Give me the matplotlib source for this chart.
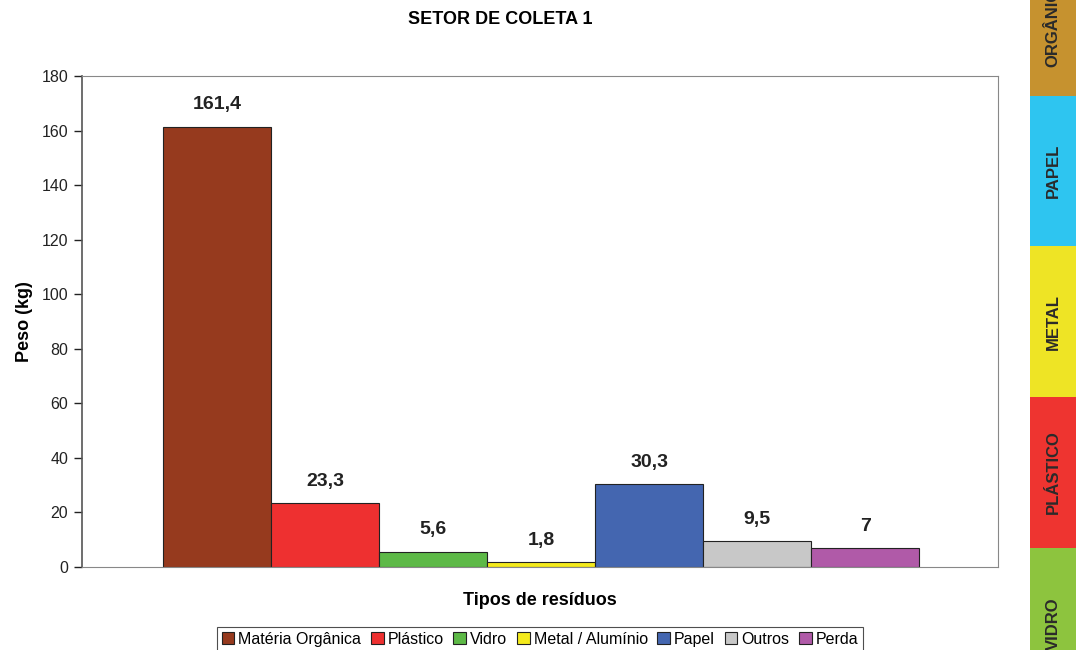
import matplotlib
matplotlib.use("Agg")
import matplotlib.pyplot as plt
from matplotlib.patches import Rectangle, Patch

plt.rcParams['font.family'] = ['Liberation Sans', 'DejaVu Sans']

categories = ["Matéria Orgânica", "Plástico", "Vidro", "Metal / Alumínio", "Papel", "Outros", "Perda"]
values = [161.4, 23.3, 5.6, 1.8, 30.3, 9.5, 7]
value_labels = ["161,4", "23,3", "5,6", "1,8", "30,3", "9,5", "7"]
colors = ["#963A1E", "#EE3030", "#5DB947", "#F4EA1C", "#4466B0", "#C8C8C8", "#B05AA8"]
yticks = [0, 20, 40, 60, 80, 100, 120, 140, 160, 180]

strip_labels = ["ORGÂNICO", "PAPEL", "METAL", "PLÁSTICO", "VIDRO"]
strip_colors = ["#C6922F", "#2EC5F0", "#EEE425", "#EE3430", "#8DC43E"]

W, H = 1078, 650
fig = plt.figure(figsize=(W/100, H/100), dpi=100)
ax = fig.add_axes([82/W, 1-567/H, (998-82)/W, (567-76)/H])

x = list(range(len(values)))
ax.bar(x, values, width=1.0, color=colors, edgecolor="#222222", linewidth=0.8)
for xi, v, lab in zip(x, values, value_labels):
    ax.text(xi, v + 8, lab, ha="center", va="center", fontsize=14, fontweight="bold", color="#222222")

ax.set_xlim(-1.25, 7.23)
ax.set_ylim(0, 180)
ax.set_yticks(yticks)
ax.set_xticks([])
ax.tick_params(axis="y", direction="out", length=6, width=1, labelsize=11.5, colors="#222222", pad=4)
for s in ["top", "right", "bottom"]:
    ax.spines[s].set_color("#888888")
    ax.spines[s].set_linewidth(0.8)
ax.spines["left"].set_color("#555555")
ax.spines["left"].set_linewidth(1.2)

ax.set_xlabel("Tipos de resíduos", fontsize=13, fontweight="bold", labelpad=18)
ax.set_ylabel("Peso (kg)", fontsize=13, fontweight="bold", labelpad=6)
fig.text(500/W, 1-20/H, "SETOR DE COLETA 1", ha="center", va="center", fontsize=13, fontweight="bold")

handles = [Patch(facecolor=c, edgecolor="#222222", linewidth=0.8) for c in colors]
leg = fig.legend(handles, categories, loc="upper center", bbox_to_anchor=(540/W, 1-619/H), ncol=7,
                 frameon=True, fontsize=11.5, handlelength=0.8, handleheight=0.8, handletextpad=0.25,
                 columnspacing=0.6, borderpad=0.3, fancybox=False, edgecolor="#222222")
leg.get_frame().set_linewidth(0.8)

# coloured strips on the right
bounds = [(-54, 96), (96, 246), (246, 397), (397, 548), (548, 700)]
for (y0, y1), lab, c in zip(bounds, strip_labels, strip_colors):
    fig.patches.append(Rectangle((1030/W, 1-y1/H), 46/W, (y1-y0)/H, transform=fig.transFigure,
                                 facecolor=c, edgecolor="none"))
    fig.text(1053/W, 1-(y0+y1)/2/H, lab, rotation=90, ha="center", va="center",
             fontsize=12, fontweight="bold", color="#2a2a2a")

fig.savefig("out.png", dpi=100)
